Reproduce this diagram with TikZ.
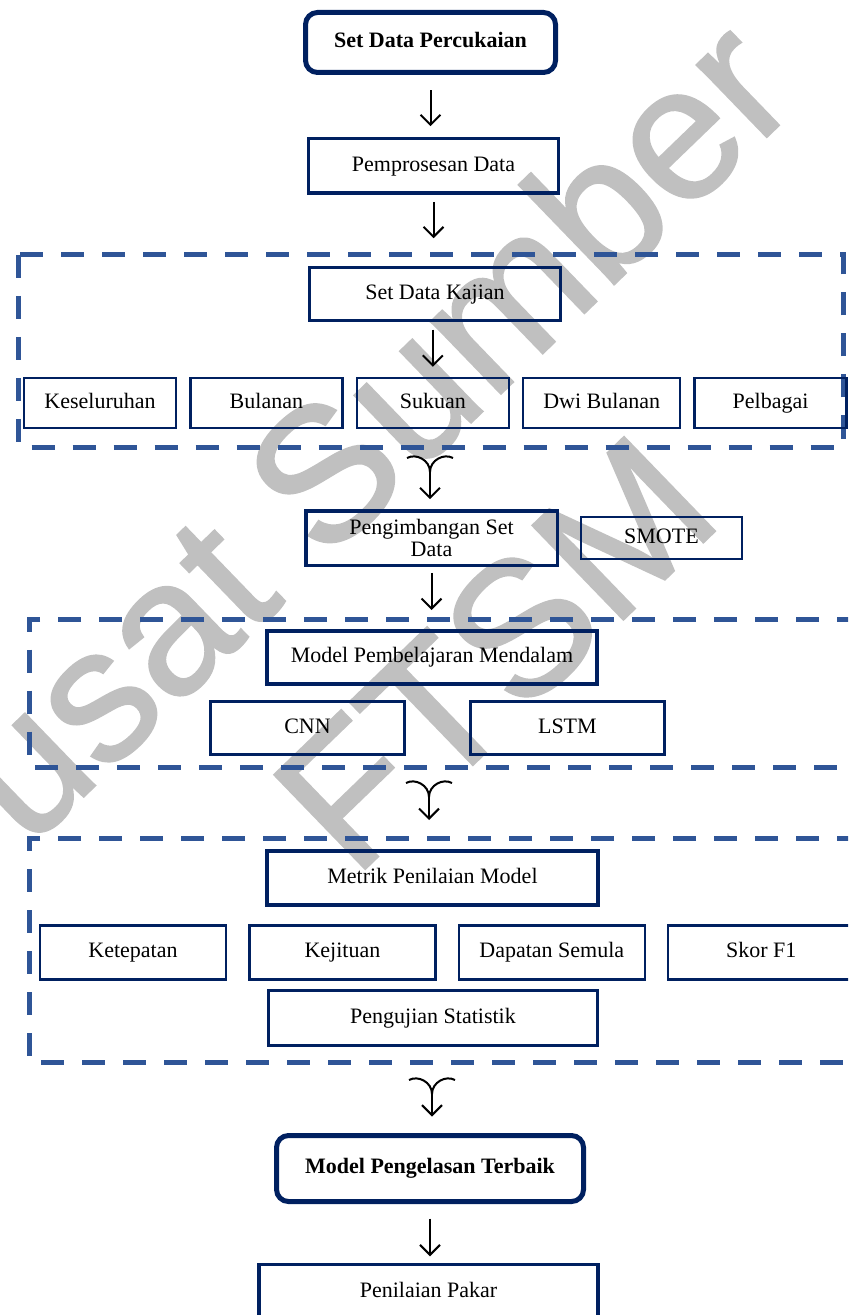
\documentclass[tikz,border=0pt]{standalone}
\usepackage{fontspec}
\setmainfont{Liberation Serif}
\newfontfamily\wmfont[FakeBold=1.2]{Liberation Sans}
\usepackage{xcolor}
\usepackage{tikz}
\usetikzlibrary{arrows.meta,positioning,calc}

\definecolor{navyb}{RGB}{0,32,96}
\definecolor{grpblue}{RGB}{47,85,151}
\definecolor{wmgray}{RGB}{192,192,192}

\begin{document}
\begin{tikzpicture}[
    x=0.5pt, y=-0.5pt,
    node distance=6pt,
    boxbase/.style={rectangle, draw=navyb, align=center, inner sep=0pt, font=\fontsize{11}{13}\selectfont},
    tx/.style={text height=7.6pt, text depth=2.4pt},
    topbox/.style={boxbase, tx, line width=2.5pt, rounded corners=6pt, font=\fontsize{11}{13}\selectfont\bfseries},
    mainbox/.style={boxbase, tx, line width=1.75pt},
    itembox/.style={boxbase, tx, line width=1.2pt},
    group/.style={draw=grpblue, line width=2.5pt, dash pattern=on 11.5pt off 9pt},
    arr/.style={-{Straight Barb[length=5pt,width=10pt]}, line width=1pt, draw=black},
    fork/.style={line width=1pt, draw=black},
    wm/.style={text=wmgray, rotate=44, anchor=base, inner sep=0pt, font=\wmfont\fontsize{95}{95}\selectfont}
]
    \useasboundingbox (0,0) rectangle (848,1315);
    \clip (0,0) rectangle (848,1315);

    % watermark
    \node [wm] (wm1) at (370,520) {Pusat Sumber};
    \node [wm] (wm2) at (540,700) {FTSM};

    % dataset and preprocessing
    \node [topbox, minimum width=125pt, minimum height=30pt] (perc) at (430.5,42.5) {Set Data Percukaian};
    \node [mainbox, minimum width=125pt, minimum height=27.25pt] (prep) at (433.5,166) {Pemprosesan Data};

    % study data sets
    \draw [group] (18.5,255) rectangle (843,447);
    \node [mainbox, minimum width=125.5pt, minimum height=26.5pt] (kajian) at (435,294) {Set Data Kajian};
    \node [itembox, minimum width=76pt, minimum height=25pt] (semua) at (100,403) {Keseluruhan};
    \node [itembox, minimum width=76pt, minimum height=25pt, right=of semua] (bulan) {Bulanan};
    \node [itembox, minimum width=76pt, minimum height=25pt, right=of bulan] (sukuan) {Sukuan};
    \node [itembox, minimum width=78.5pt, minimum height=25pt, right=of sukuan] (dwi) {Dwi Bulanan};
    \node [itembox, minimum width=76pt, minimum height=25pt, right=of dwi] (pelbagai) {Pelbagai};

    % balancing
    \node [boxbase, line width=1.75pt, minimum width=125.75pt, minimum height=27.25pt, font=\fontsize{11}{11}\selectfont] (imb) at (431.5,538) {Pengimbangan Set\\Data};
    \node [itembox, minimum width=80.25pt, minimum height=21.25pt, right=10.5pt of imb] (smote) {SMOTE};

    % deep learning models
    \draw [group] (860,619) -- (29.5,619) -- (29.5,767) -- (860,767);
    \node [mainbox, line width=2pt, minimum width=165pt, minimum height=26.5pt] (dl) at (432,657.5) {Model Pembelajaran Mendalam};
    \node [itembox, minimum width=97pt, minimum height=26.5pt] (cnn) at (307.5,728) {CNN};
    \node [itembox, minimum width=97pt, minimum height=26.5pt, right=31.75pt of cnn] (lstm) {LSTM};

    % evaluation metrics
    \draw [group] (860,838.5) -- (29.5,838.5) -- (29.5,1062.5) -- (860,1062.5);
    \node [mainbox, line width=2pt, minimum width=165.5pt, minimum height=27pt] (metrik) at (432.5,878) {Metrik Penilaian Model};
    \node [itembox, minimum width=93pt, minimum height=27pt] (tepat) at (133,952.5) {Ketepatan};
    \node [itembox, minimum width=93pt, minimum height=27pt, right=10.5pt of tepat] (jitu) {Kejituan};
    \node [itembox, minimum width=93pt, minimum height=27pt, right=10.5pt of jitu] (dapat) {Dapatan Semula};
    \node [itembox, minimum width=93pt, minimum height=27pt, right=10.5pt of dapat] (skor) {Skor F1};
    \node [itembox, minimum width=164.5pt, minimum height=27.5pt] (uji) at (433,1018) {Pengujian Statistik};

    % best model and expert review
    \node [topbox, minimum width=153.5pt, minimum height=33pt] (best) at (430,1168.5) {Model Pengelasan Terbaik};
    \node [mainbox, minimum width=169.5pt, minimum height=27.5pt] (pakar) at (428.5,1292) {Penilaian Pakar};

    % merge points
    \coordinate (j1) at (430,472);
    \coordinate (j2) at (429,797);
    \coordinate (j3) at (432,1094);
    \foreach \j in {j1,j2,j3}
        \draw [fork] ($(\j)+(-23,-14)$) .. controls ($(\j)+(-14,-19)$) and ($(\j)+(0,-12)$) .. (\j)
                     .. controls ($(\j)+(0,-12)$) and ($(\j)+(14,-19)$) .. ($(\j)+(23,-14)$);

    \draw [arr, shorten <=7.75pt, shorten >=5.4pt] (perc) -- (perc |- prep.north);
    \draw [arr, shorten <=3.4pt, shorten >=13.75pt] (prep) -- (prep |- kajian.north);
    \draw [arr, shorten <=3.75pt, shorten >=5pt] (kajian.south -| sukuan.north) -- (sukuan.north);
    \draw [arr, shorten >=4.9pt] (j1) -- (j1 |- imb.north);
    \draw [arr, shorten <=2.9pt, shorten >=9.5pt] (imb) -- (imb |- dl.north);
    \draw [arr, shorten >=14.5pt] (j2) -- (j2 |- metrik.north);
    \draw [arr, shorten >=8.25pt] (j3) -- (j3 |- best.north);
    \draw [arr, shorten <=7.25pt, shorten >=3.25pt] (best) -- (best |- pakar.north);
\end{tikzpicture}
\end{document}
